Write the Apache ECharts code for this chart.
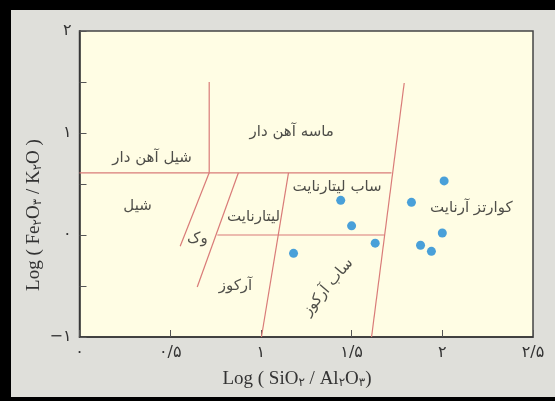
<!DOCTYPE html>
<html>
<head>
<meta charset="utf-8">
<script src="https://cdn.jsdelivr.net/npm/echarts@6/dist/echarts.min.js"></script>
<style>
  html, body { margin: 0; padding: 0; background: #dfdfda; }
  #chart { width: 555px; height: 401px; }
</style>
</head>
<body>
<div id="chart"></div>
<script>
// Sample points: [log(SiO2/Al2O3), log(Fe2O3/K2O)]
const samples = [
  [2.01, 0.53],
  [1.44, 0.34],
  [1.83, 0.32],
  [1.50, 0.09],
  [2.00, 0.02],
  [1.63, -0.08],
  [1.88, -0.10],
  [1.94, -0.16],
  [1.18, -0.18]
];

// Classification field boundaries (each a two-point segment)
const boundaries = [
  [[0, 0.61], [1.72, 0.61]],
  [[0.715, 0.61], [0.715, 1.50]],
  [[1.79, 1.49], [1.61, -1]],
  [[0.715, 0.61], [0.555, -0.11]],
  [[0.876, 0.61], [0.649, -0.51]],
  [[0.76, 0], [1.68, 0]],
  [[1.152, 0.61], [1.003, -1]]
];

// Field names and where they sit
const fieldNames = ['ماسه آهن دار', 'شیل آهن دار', 'شیل', 'ساب لیتارنایت', 'لیتارنایت', 'وک', 'آرکوز', 'ساب آرکوز', 'کوارتز آرنایت'];
const fieldX = [1.17, 0.40, 0.32, 1.42, 0.96, 0.65, 0.86, 1.37, 2.16];
const fieldY = [1.01, 0.75, 0.28, 0.47, 0.18, -0.04, -0.50, -0.51, 0.26];
const fieldRotate = [0, 0, 0, 0, 0, 0, 0, 50, 0];

// Tick labels in Persian digits
const xTickLabels = { '0': '۰', '0.5': '۰/۵', '1': '۱', '1.5': '۱/۵', '2': '۲', '2.5': '۲/۵' };
const yTickLabels = { '-1': '−۱', '0': '۰', '1': '۱', '2': '۲' };

const chart = echarts.init(document.getElementById('chart'));

const boundarySeries = boundaries.map(seg => ({
  type: 'line',
  data: seg,
  symbol: 'none',
  silent: true,
  lineStyle: { color: '#d97b78', width: 1.2 },
  z: 2
}));

const fieldSeries = {
  type: 'scatter',
  symbolSize: 0,
  silent: true,
  data: fieldNames.map((n, i) => ({
    value: [fieldX[i], fieldY[i]],
    name: n,
    label: { rotate: fieldRotate[i] }
  })),
  label: {
    show: true,
    position: 'inside',
    formatter: p => p.name,
    color: '#222',
    fontSize: 15,
    fontFamily: 'DejaVu Sans'
  },
  z: 3
};

const sampleSeries = {
  type: 'scatter',
  data: samples,
  symbol: 'circle',
  symbolSize: 9,
  itemStyle: { color: '#1b88d6' },
  z: 5
};

const titleRich = {
  t: { fontFamily: 'Liberation Serif', fontSize: 19, fill: '#333', color: '#333' },
  s: { fontFamily: 'DejaVu Sans', fontSize: 12, fill: '#333', color: '#333', padding: [7, 0, 0, 0] }
};

chart.setOption({
  backgroundColor: '#dfdfda',
  animation: false,
  graphic: [
    { type: 'rect', shape: { x: 0, y: 0, width: 555, height: 10 }, style: { fill: '#000' } },
    { type: 'rect', shape: { x: 0, y: 0, width: 11, height: 401 }, style: { fill: '#000' } },
    { type: 'rect', shape: { x: 0, y: 397, width: 555, height: 4 }, style: { fill: '#000' } },
    {
      type: 'text', x: 297, y: 379,
      style: {
        text: '{t|Log ( SiO}{s|۲}{t| / Al}{s|۲}{t|O}{s|۳}{t|)}',
        rich: titleRich, align: 'center', verticalAlign: 'middle'
      }
    },
    {
      type: 'text', x: 34, y: 215, rotation: Math.PI / 2,
      style: {
        text: '{t|Log ( Fe}{s|۲}{t|O}{s|۳}{t| / K}{s|۲}{t|O )}',
        rich: titleRich, align: 'center', verticalAlign: 'middle'
      }
    }
  ],
  grid: {
    left: 79.5, right: 22, top: 31, bottom: 64,
    show: true,
    backgroundColor: '#fffde4',
    borderColor: '#444',
    borderWidth: 1.5
  },
  xAxis: {
    type: 'value', min: 0, max: 2.5, interval: 0.5,
    axisLine: { onZero: false, lineStyle: { color: '#333', width: 1.5 } },
    axisTick: { inside: true, length: 7, lineStyle: { color: '#555' } },
    splitLine: { show: false },
    axisLabel: {
      formatter: v => xTickLabels[String(v)] || '',
      color: '#333', fontSize: 16, fontFamily: 'DejaVu Sans', margin: 8
    }
  },
  yAxis: {
    type: 'value', min: -1, max: 2, interval: 0.5,
    axisLine: { onZero: false, lineStyle: { color: '#333', width: 1.5 } },
    axisTick: { inside: true, length: 7, lineStyle: { color: '#555' } },
    splitLine: { show: false },
    axisLabel: {
      formatter: v => yTickLabels[String(v)] || '',
      color: '#333', fontSize: 16, fontFamily: 'DejaVu Sans', margin: 8
    }
  },
  series: [...boundarySeries, fieldSeries, sampleSeries]
});
</script>
</body>
</html>
